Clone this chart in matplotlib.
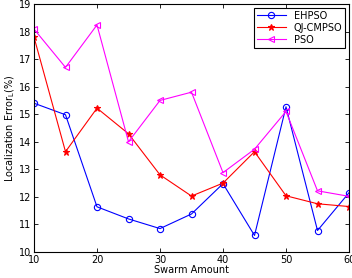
import numpy as np
import matplotlib
matplotlib.use("Agg")
import matplotlib.pyplot as plt

swarm = [10, 15, 20, 25, 30, 35, 40, 45, 50, 55, 60]
ehpso = [15.4, 14.98, 11.64, 11.2, 10.85, 11.38, 12.48, 10.6, 15.27, 10.78, 12.15]
qjcmpso = [17.8, 13.64, 15.22, 14.29, 12.8, 12.03, 12.5, 13.64, 12.04, 11.75, 11.65]
pso = [18.09, 16.7, 18.24, 14.0, 15.5, 15.8, 12.88, 13.73, 15.1, 12.22, 12.02]

fig = plt.figure(figsize=(3.52, 2.78), dpi=100)
ax = fig.add_axes([34/352, 26/278, 315/352, 248/278])

ax.plot(swarm, ehpso, "o-", color="#0000ff", lw=0.8, ms=4.5, mfc="none", mew=0.8, label="EHPSO")
ax.plot(swarm, qjcmpso, "*-", color="#ff0000", lw=0.8, ms=4.5, mew=0.8, label="QJ-CMPSO")
ax.plot(swarm, pso, "<-", color="#ff00ff", lw=0.8, ms=4.5, mfc="none", mew=0.8, label="PSO")

ax.set_xlim(10, 60)
ax.set_ylim(10, 19)
ax.set_xticks(np.arange(10, 61, 10))
ax.set_yticks(np.arange(10, 20, 1))
ax.tick_params(direction="in", top=True, right=True, labelsize=7, length=3, width=0.6, pad=2)
for s in ax.spines.values():
    s.set_linewidth(0.8)

ax.set_xlabel("Swarm Amount", fontsize=7, labelpad=0)
ax.set_ylabel("Localization Error$_\\mathregular{L}$(%)", fontsize=7, labelpad=1)

leg = ax.legend(loc="upper right", fontsize=7, fancybox=False, framealpha=1,
                edgecolor="black", borderpad=0.3, labelspacing=0.2,
                handlelength=3.0, borderaxespad=0.4)
leg.get_frame().set_linewidth(0.8)

plt.savefig("out.png", dpi=100)
